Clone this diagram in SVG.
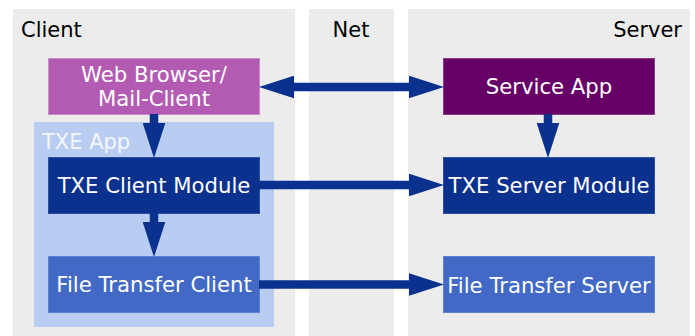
<svg xmlns="http://www.w3.org/2000/svg" width="695" height="336" viewBox="0 0 695 336">
<defs>
<style>
text{font-family:"DejaVu Sans","Liberation Sans",sans-serif;font-size:21px}
.node{font-size:21.2px}
.panel{fill:#ececec}
.lbl{fill:#000}
.wt{fill:#fff;text-anchor:middle}
.conn{stroke:#0b318f;stroke-width:8.5;fill:none}
</style>
<marker id="ah" markerUnits="userSpaceOnUse" markerWidth="35" markerHeight="23" viewBox="0 0 34 22" refX="0" refY="11" orient="auto-start-reverse">
<path d="M0,0 L34,11 L0,22 Z" fill="#0b318f"/>
</marker>
</defs>
<g id="panels">
<rect class="panel" x="13" y="9" width="282" height="327"/>
<rect class="panel" x="309" y="9" width="85" height="327"/>
<rect class="panel" x="408" y="9" width="282" height="327"/>
<text class="lbl" x="21" y="37">Client</text>
<text class="lbl" x="351" y="37" text-anchor="middle">Net</text>
<text class="lbl" x="682" y="37" text-anchor="end">Server</text>
</g>
<g id="txe-app">
<rect x="34" y="122" width="240" height="205" fill="#b9cdf3"/>
<text x="42" y="148.5" fill="#f4f7ff">TXE App</text>
</g>
<g id="web-browser">
<rect x="48.5" y="58.5" width="211" height="56" fill="#b35bb3" stroke="#c98ac9"/>
<text class="wt node" x="154" y="82">Web Browser/</text>
<text class="wt node" x="154" y="106">Mail-Client</text>
</g>
<g id="txe-client">
<rect x="48.5" y="157.5" width="211" height="56" fill="#0b318f" stroke="#2b4fa3"/>
<text class="wt node" x="154" y="193">TXE Client Module</text>
</g>
<g id="ft-client">
<rect x="48.5" y="256.5" width="211" height="56" fill="#4169c5" stroke="#5d80d2"/>
<text class="wt node" x="154" y="292">File Transfer Client</text>
</g>
<g id="service-app">
<rect x="443.5" y="58.5" width="211" height="56" fill="#660066" stroke="#8a3a8a"/>
<text class="wt node" x="549" y="94">Service App</text>
</g>
<g id="txe-server">
<rect x="443.5" y="157.5" width="211" height="56" fill="#0b318f" stroke="#2b4fa3"/>
<text class="wt node" x="549" y="193">TXE Server Module</text>
</g>
<g id="ft-server">
<rect x="443.5" y="256.5" width="211" height="56" fill="#4169c5" stroke="#5d80d2"/>
<text class="wt node" x="549" y="292.5">File Transfer Server</text>
</g>
<g id="connectors">
<path class="conn" d="M294,87 L409,87" marker-start="url(#ah)" marker-end="url(#ah)"/>
<path class="conn" d="M154,114 L154,123" marker-end="url(#ah)"/>
<path class="conn" d="M154,213 L154,222" marker-end="url(#ah)"/>
<path class="conn" d="M548,114 L548,123" marker-end="url(#ah)"/>
<path class="conn" d="M259,185 L409,185" marker-end="url(#ah)"/>
<path class="conn" d="M259,284.5 L409,284.5" marker-end="url(#ah)"/>
</g>
</svg>
